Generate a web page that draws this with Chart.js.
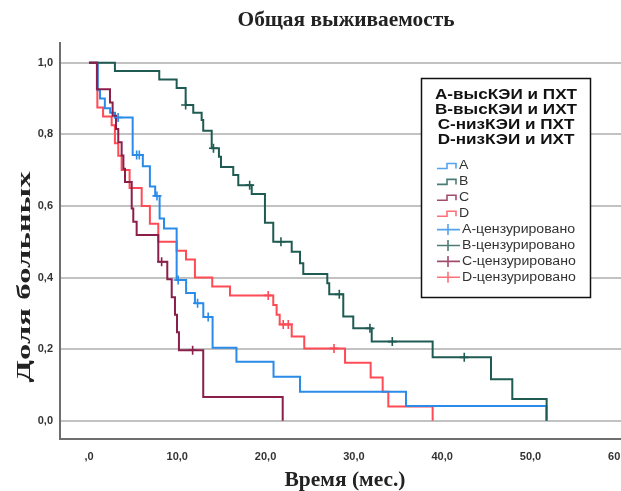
<!DOCTYPE html>
<html><head><meta charset="utf-8">
<script src="https://cdn.jsdelivr.net/npm/chart.js@4/dist/chart.umd.min.js"></script>
<style>html,body{margin:0;padding:0;background:#fff;overflow:hidden}#wrap{width:621px;height:491px;position:relative}</style>
</head><body><div id="wrap"><canvas id="c" width="621" height="491"></canvas></div>
<script>
// ---- data ----
const groupNames = ['A', 'B', 'C', 'D'];
const legendTitle = ['A-высКЭИ и ПХТ', 'B-высКЭИ и ИХТ', 'C-низКЭИ и ПХТ', 'D-низКЭИ и ИХТ'];
const censoredSuffix = '-цензурировано';
const chartTitle = 'Общая выживаемость';
const xTitle = 'Время (мес.)';
const yTitle = 'Доля больных';
const xTicks = [0, 10, 20, 30, 40, 50, 60];
const yTicks = [0, 0.2, 0.4, 0.6, 0.8, 1.0];

const timesA = [0, 1.0, 1.25, 1.8, 2.4, 2.95, 4.95, 6.1, 6.9, 7.5, 8.0, 8.5, 9.93, 11.0, 12.0, 12.95, 14.0, 16.7, 20.9, 23.9, 35.9, 51.8];
const survA  = [1, 0.923, 0.9, 0.873, 0.86, 0.847, 0.742, 0.711, 0.654, 0.628, 0.565, 0.537, 0.393, 0.357, 0.328, 0.29, 0.204, 0.165, 0.123, 0.081, 0.041, 0];
const censTimesA = [3.3, 5.4, 5.7, 7.7, 10.1, 12.3, 13.5];
const censSurvA  = [0.847, 0.742, 0.742, 0.628, 0.393, 0.328, 0.29];

const timesB = [0, 2.94, 7.96, 9.93, 10.95, 11.81, 12.76, 12.94, 13.9, 14.72, 14.95, 16.34, 16.91, 18.43, 19.93, 20.87, 22.96, 23.9, 24.27, 26.99, 27.21, 28.8, 29.93, 32.02, 38.92, 45.53, 47.94, 51.83];
const survB  = [1, 0.977, 0.953, 0.929, 0.882, 0.860, 0.840, 0.810, 0.761, 0.737, 0.709, 0.686, 0.658, 0.633, 0.553, 0.500, 0.472, 0.440, 0.410, 0.384, 0.353, 0.291, 0.258, 0.221, 0.177, 0.116, 0.061, 0];
const censTimesB = [10.95, 14.1, 18.2, 21.74, 28.35, 31.82, 34.35, 42.5];
const censSurvB  = [0.882, 0.761, 0.658, 0.500, 0.353, 0.258, 0.221, 0.177];

const timesC = [0, 0.9, 2.38, 2.68, 3.06, 3.32, 3.7, 3.9, 4.08, 4.84, 5.02, 5.4, 7.85, 8.87, 9.37, 9.74, 9.97, 10.19, 12.94, 21.94];
const survC  = [1, 0.926, 0.889, 0.852, 0.815, 0.778, 0.741, 0.704, 0.667, 0.593, 0.556, 0.519, 0.444, 0.395, 0.345, 0.296, 0.247, 0.197, 0.066, 0];
const censTimesC = [8.23, 11.74];
const censSurvC  = [0.444, 0.197];

const timesD = [0, 0.95, 1.6, 2.57, 2.94, 3.32, 3.7, 4.6, 5.97, 6.9, 7.85, 9.93, 10.99, 12.0, 13.96, 15.97, 20.87, 21.25, 21.6, 22.96, 24.38, 29.0, 31.9, 33.26, 33.9, 38.92];
const survD  = [1, 0.875, 0.85, 0.825, 0.775, 0.74, 0.7, 0.65, 0.6, 0.55, 0.5, 0.475, 0.45, 0.4, 0.375, 0.35, 0.323, 0.296, 0.269, 0.235, 0.202, 0.162, 0.121, 0.081, 0.040, 0];
const censTimesD = [20.3, 22.0, 22.57, 27.75];
const censSurvD  = [0.35, 0.269, 0.269, 0.202];

// ---- styles ----
const colA = '#2a8be8', colB = '#1f5b52', colC = '#8a1f4a', colD = '#ff4b55';
const groupColors = [colA, colB, colC, colD];

function pts(t, s) { return t.map((x, i) => ({ x: x, y: s[i] })); }
function curve(label, t, s, color, order) {
  return { label: label, data: pts(t, s), borderColor: color, backgroundColor: color, borderWidth: 2,
    stepped: true, pointRadius: 0, fill: false, tension: 0, order: order };
}
function cens(label, t, s, color, order) {
  return { label: label, data: pts(t, s), borderColor: color, backgroundColor: color, borderWidth: 1.6,
    showLine: false, pointStyle: 'cross', pointRadius: 4.5, pointHoverRadius: 4.5, order: order };
}

const serif = '"Liberation Serif", "Times New Roman", serif';
const sans = '"Liberation Sans", Arial, sans-serif';

function stretchedText(ctx, text, cx, cy, font, targetW, rot) {
  ctx.save();
  ctx.font = font;
  const w = ctx.measureText(text).width;
  ctx.translate(cx, cy);
  if (rot) ctx.rotate(rot);
  ctx.scale(targetW / w, 1);
  ctx.textAlign = 'center';
  ctx.textBaseline = 'middle';
  ctx.fillStyle = '#222';
  ctx.fillText(text, 0, 0);
  ctx.restore();
}

// draw text with a horizontal scale factor sx, anchored at (x, y)
function scaledText(ctx, text, x, y, sx, align) {
  ctx.save();
  ctx.translate(x, y);
  ctx.scale(sx, 1);
  ctx.textAlign = align;
  ctx.textBaseline = 'middle';
  ctx.fillText(text, 0, 0);
  ctx.restore();
}

const decor = {
  id: 'decor',
  afterDraw(chart) {
    const ctx = chart.ctx;
    // titles
    stretchedText(ctx, chartTitle, 346, 21, 'bold 21px ' + serif, 217, 0);
    stretchedText(ctx, xTitle, 345, 481, 'bold 21px ' + serif, 121, 0);
    stretchedText(ctx, yTitle, 25, 277, 'bold 18.5px ' + serif, 211, -Math.PI / 2);
    // legend box
    ctx.save();
    ctx.fillStyle = '#fff';
    ctx.fillRect(421, 78, 169, 219);
    ctx.strokeStyle = '#111';
    ctx.lineWidth = 1.5;
    ctx.strokeRect(421.5, 78.5, 169, 219);
    ctx.fillStyle = '#111';
    ctx.font = 'bold 14.5px ' + sans;
    const sxT = 142 / ctx.measureText(legendTitle[0]).width;
    legendTitle.forEach((t, i) => scaledText(ctx, t, 506, 95 + i * 15, sxT, 'center'));
    ctx.font = '12.5px ' + sans;
    const sxE = 113 / ctx.measureText('A' + censoredSuffix).width;
    const y0 = 166, dy = 15.9;
    groupNames.forEach((g, i) => {
      const y = y0 + i * dy;
      ctx.strokeStyle = groupColors[i];
      ctx.globalAlpha = 0.8;
      ctx.lineWidth = 1.6;
      ctx.beginPath();
      ctx.moveTo(437, y + 2.5); ctx.lineTo(447, y + 2.5); ctx.lineTo(447, y - 2.5);
      ctx.lineTo(456, y - 2.5); ctx.lineTo(456, y + 2.5);
      ctx.stroke();
      ctx.globalAlpha = 1;
      ctx.fillStyle = '#333';
      scaledText(ctx, g, 459, y, sxE, 'left');
    });
    groupNames.forEach((g, i) => {
      const y = y0 + (i + 4) * dy;
      ctx.strokeStyle = groupColors[i];
      ctx.globalAlpha = 0.8;
      ctx.lineWidth = 1.6;
      ctx.beginPath();
      ctx.moveTo(437, y); ctx.lineTo(460, y);
      ctx.moveTo(448, y - 5.5); ctx.lineTo(448, y + 5.5);
      ctx.stroke();
      ctx.globalAlpha = 1;
      ctx.fillStyle = '#333';
      scaledText(ctx, g + censoredSuffix, 462, y, sxE, 'left');
    });
    ctx.restore();
  }
};

new Chart(document.getElementById('c'), {
  type: 'line',
  data: {
    datasets: [
      curve('A', timesA, survA, colA, 3),
      curve('B', timesB, survB, colB, 2),
      curve('C', timesC, survC, colC, 1),
      curve('D', timesD, survD, colD, 4),
      cens('A-цензурировано', censTimesA, censSurvA, colA, 0),
      cens('B-цензурировано', censTimesB, censSurvB, colB, 0),
      cens('C-цензурировано', censTimesC, censSurvC, colC, 0),
      cens('D-цензурировано', censTimesD, censSurvD, colD, 0)
    ]
  },
  options: {
    responsive: false,
    animation: false,
    devicePixelRatio: 1,
    layout: { autoPadding: false, padding: { top: 43, left: 0, right: 0, bottom: 0 } },
    plugins: { legend: { display: false }, tooltip: { enabled: false }, title: { display: false } },
    scales: {
      x: {
        type: 'linear', min: -3.28, max: 60.25,
        afterBuildTicks: (s) => { s.ticks = xTicks.map(v => ({ value: v })); },
        afterFit: (s) => { s.height = 52; s.paddingLeft = 0; s.paddingRight = 0; },
        ticks: {
          autoSkip: false, maxRotation: 0, padding: 11, color: '#333',
          font: { family: sans, size: 11, weight: 'bold' },
          callback: (v) => (v === 0 ? ',0' : v.toFixed(1).replace('.', ','))
        },
        grid: { display: false, drawTicks: false },
        border: { display: true, color: '#6e6e6e', width: 2 }
      },
      y: {
        type: 'linear', min: -0.051, max: 1.055,
        afterBuildTicks: (s) => { s.ticks = yTicks.map(v => ({ value: v })); },
        afterFit: (s) => { s.width = 60; s.paddingTop = 0; s.paddingBottom = 0; },
        ticks: {
          padding: 7, color: '#333',
          font: { family: sans, size: 11, weight: 'bold' },
          callback: (v) => v.toFixed(1).replace('.', ',')
        },
        grid: { color: '#c2c2c2', lineWidth: 2, drawTicks: false },
        border: { display: true, color: '#6e6e6e', width: 2 }
      }
    }
  },
  plugins: [decor]
});
</script>
</body></html>
